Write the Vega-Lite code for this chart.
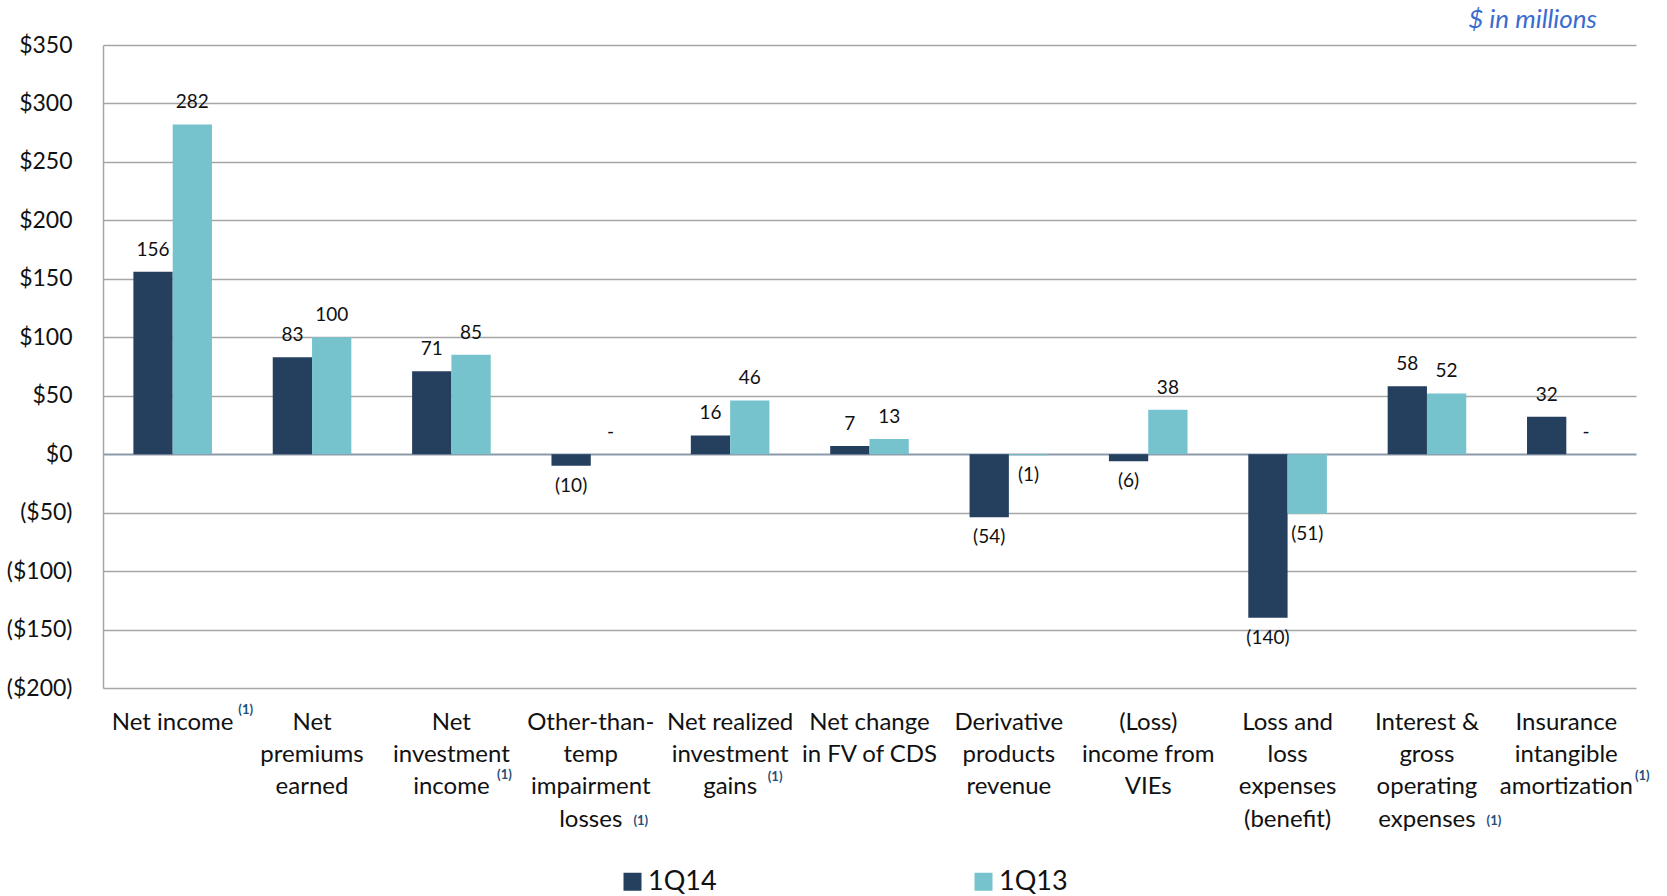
{
  "$schema": "https://vega.github.io/schema/vega-lite/v6.json",
  "width": 1533,
  "height": 643,
  "autosize": {"type": "none"},
  "padding": {"left": 103, "top": 45, "right": 31, "bottom": 208},
  "background": "#ffffff",
  "config": {
    "font": "Lato",
    "view": {"stroke": null},
    "text": {"font": "Lato"}
  },
  "title": {
    "text": "$ in millions",
    "anchor": "end",
    "orient": "top",
    "frame": "group",
    "font": "Lato",
    "fontSize": 26,
    "fontStyle": "italic",
    "fontWeight": "normal",
    "color": "#3A6BD0",
    "baseline": "alphabetic",
    "offset": -20,
    "dx": -39
  },
  "data": {
    "values": [
      {"category": "Net income", "period": "1Q14", "value": 156},
      {"category": "Net income", "period": "1Q13", "value": 282},
      {"category": "Net\npremiums\nearned", "period": "1Q14", "value": 83},
      {"category": "Net\npremiums\nearned", "period": "1Q13", "value": 100},
      {"category": "Net\ninvestment\nincome", "period": "1Q14", "value": 71},
      {"category": "Net\ninvestment\nincome", "period": "1Q13", "value": 85},
      {"category": "Other-than-\ntemp\nimpairment\nlosses", "period": "1Q14", "value": -10},
      {"category": "Other-than-\ntemp\nimpairment\nlosses", "period": "1Q13", "value": 0},
      {"category": "Net realized\ninvestment\ngains", "period": "1Q14", "value": 16},
      {"category": "Net realized\ninvestment\ngains", "period": "1Q13", "value": 46},
      {"category": "Net change\nin FV of CDS", "period": "1Q14", "value": 7},
      {"category": "Net change\nin FV of CDS", "period": "1Q13", "value": 13},
      {"category": "Derivative\nproducts\nrevenue", "period": "1Q14", "value": -54},
      {"category": "Derivative\nproducts\nrevenue", "period": "1Q13", "value": -1},
      {"category": "(Loss)\nincome from\nVIEs", "period": "1Q14", "value": -6},
      {"category": "(Loss)\nincome from\nVIEs", "period": "1Q13", "value": 38},
      {"category": "Loss and\nloss\nexpenses\n(benefit)", "period": "1Q14", "value": -140},
      {"category": "Loss and\nloss\nexpenses\n(benefit)", "period": "1Q13", "value": -51},
      {"category": "Interest &\ngross\noperating\nexpenses", "period": "1Q14", "value": 58},
      {"category": "Interest &\ngross\noperating\nexpenses", "period": "1Q13", "value": 52},
      {"category": "Insurance\nintangible\namortization", "period": "1Q14", "value": 32},
      {"category": "Insurance\nintangible\namortization", "period": "1Q13", "value": 0}
    ]
  },
  "transform": [
    {
      "calculate": "datum.value > 0 ? format(datum.value, 'd') : (datum.value < 0 ? '(' + format(-datum.value, 'd') + ')' : '-')",
      "as": "label"
    }
  ],
  "encoding": {
    "x": {
      "field": "category",
      "type": "nominal",
      "sort": null,
      "scale": {"paddingInner": 0.436, "paddingOuter": 0.218},
      "axis": {
        "title": null,
        "orient": "bottom",
        "domain": false,
        "ticks": false,
        "labelAngle": 0,
        "labelFont": "Lato",
        "labelFontSize": 24,
        "labelColor": "#111111",
        "labelLineHeight": 32.4,
        "labelBaseline": "top",
        "labelPadding": 22,
        "labelLimit": 0,
        "labelOverlap": false,
        "labelBound": false,
        "labelExpr": "split(datum.value, '\\n')"
      }
    }
  },
  "layer": [
    {
      "mark": {"type": "bar"},
      "encoding": {
        "xOffset": {
          "field": "period",
          "type": "nominal",
          "sort": ["1Q14", "1Q13"],
          "scale": {"paddingInner": 0, "paddingOuter": 0}
        },
        "y": {
          "field": "value",
          "type": "quantitative",
          "scale": {"domain": [-200, 350], "nice": false, "zero": false},
          "axis": {
            "title": null,
            "values": [-200, -150, -100, -50, 0, 50, 100, 150, 200, 250, 300, 350],
            "labelExpr": "datum.value < 0 ? '($' + (-datum.value) + ')' : '$' + datum.value",
            "labelFont": "Lato",
            "labelFontSize": 23,
            "labelColor": "#111111",
            "labelPadding": 31,
            "ticks": false,
            "domain": true,
            "domainColor": "#A6A6A6",
            "domainWidth": 1.5,
            "grid": true,
            "gridColor": {"condition": {"test": "datum.value === 0", "value": "#8C99A8"}, "value": "#A6A6A6"},
            "gridWidth": {"condition": {"test": "datum.value === 0", "value": 2}, "value": 1.3}
          }
        },
        "color": {
          "field": "period",
          "type": "nominal",
          "sort": ["1Q14", "1Q13"],
          "scale": {"domain": ["1Q14", "1Q13"], "range": ["#253F5E", "#77C3CD"]},
          "legend": {
            "title": null,
            "orient": "none",
            "direction": "horizontal",
            "columns": 2,
            "legendX": 516,
            "legendY": 823,
            "padding": 0,
            "symbolType": "square",
            "symbolSize": 324,
            "symbolStrokeWidth": 0,
            "symbolOpacity": 1,
            "labelFont": "Lato",
            "labelFontSize": 27,
            "labelColor": "#111111",
            "labelOffset": 2,
            "columnPadding": 253
          }
        }
      }
    },
    {
      "transform": [{"filter": "datum.value >= 0"}],
      "mark": {"type": "text", "baseline": "middle", "dy": -22, "fontSize": 19, "color": "#111111"},
      "encoding": {
        "xOffset": {"field": "period", "type": "nominal", "sort": ["1Q14", "1Q13"]},
        "y": {"field": "value", "type": "quantitative"},
        "text": {"field": "label"}
      }
    },
    {
      "transform": [{"filter": "datum.value < 0"}],
      "mark": {"type": "text", "baseline": "middle", "dy": 20, "fontSize": 19, "color": "#111111"},
      "encoding": {
        "xOffset": {"field": "period", "type": "nominal", "sort": ["1Q14", "1Q13"]},
        "y": {"field": "value", "type": "quantitative"},
        "text": {"field": "label"}
      }
    },
    {
      "transform": [{"filter": "datum.category === 'Net income' && datum.period === '1Q14'"}],
      "mark": {"type": "text", "text": "(1)", "fontSize": 13, "fontWeight": "bold", "color": "#1F4E79", "baseline": "middle", "dx": 73, "dy": 22},
      "encoding": {"y": {"datum": -200, "type": "quantitative"}}
    },
    {
      "transform": [{"filter": "datum.category === 'Net\\ninvestment\\nincome' && datum.period === '1Q14'"}],
      "mark": {"type": "text", "text": "(1)", "fontSize": 13, "fontWeight": "bold", "color": "#1F4E79", "baseline": "middle", "dx": 53, "dy": 87},
      "encoding": {"y": {"datum": -200, "type": "quantitative"}}
    },
    {
      "transform": [{"filter": "datum.category === 'Other-than-\\ntemp\\nimpairment\\nlosses' && datum.period === '1Q14'"}],
      "mark": {"type": "text", "text": "(1)", "fontSize": 13, "fontWeight": "bold", "color": "#1F4E79", "baseline": "middle", "dx": 50, "dy": 133},
      "encoding": {"y": {"datum": -200, "type": "quantitative"}}
    },
    {
      "transform": [{"filter": "datum.category === 'Net realized\\ninvestment\\ngains' && datum.period === '1Q14'"}],
      "mark": {"type": "text", "text": "(1)", "fontSize": 13, "fontWeight": "bold", "color": "#1F4E79", "baseline": "middle", "dx": 45, "dy": 89},
      "encoding": {"y": {"datum": -200, "type": "quantitative"}}
    },
    {
      "transform": [{"filter": "datum.category === 'Interest &\\ngross\\noperating\\nexpenses' && datum.period === '1Q14'"}],
      "mark": {"type": "text", "text": "(1)", "fontSize": 13, "fontWeight": "bold", "color": "#1F4E79", "baseline": "middle", "dx": 67, "dy": 133},
      "encoding": {"y": {"datum": -200, "type": "quantitative"}}
    },
    {
      "transform": [{"filter": "datum.category === 'Insurance\\nintangible\\namortization' && datum.period === '1Q14'"}],
      "mark": {"type": "text", "text": "(1)", "fontSize": 13, "fontWeight": "bold", "color": "#1F4E79", "baseline": "middle", "dx": 76, "dy": 88},
      "encoding": {"y": {"datum": -200, "type": "quantitative"}}
    }
  ]
}
